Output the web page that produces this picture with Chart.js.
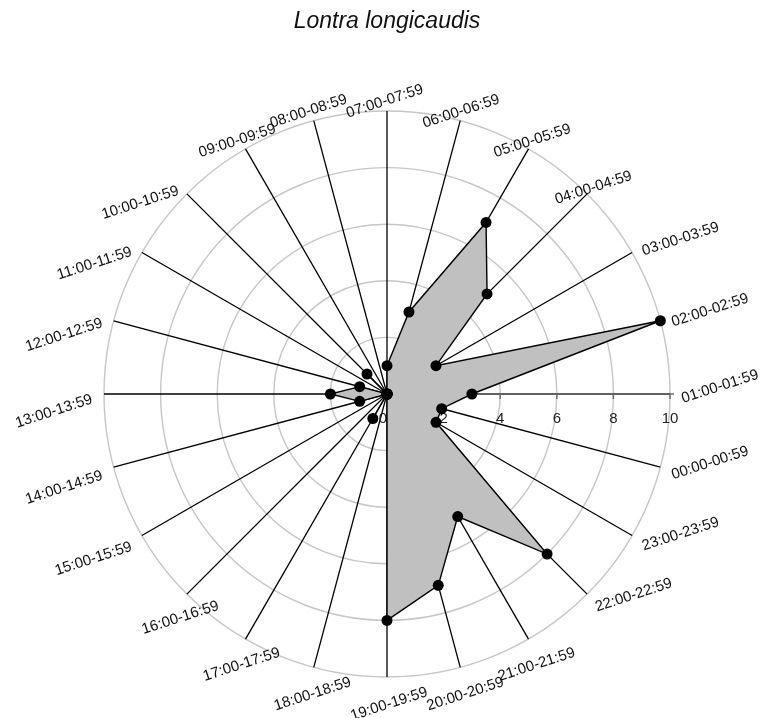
<!DOCTYPE html>
<html>
<head>
<meta charset="utf-8">
<title>Lontra longicaudis</title>
<script src="https://cdn.jsdelivr.net/npm/chart.js@4.4.1/dist/chart.umd.min.js"></script>
<style>
  html, body { margin: 0; padding: 0; background: #ffffff; }
  #chartWrap { width: 763px; height: 718px; }
</style>
</head>
<body>
<div id="chartWrap"><canvas id="myChartRadar"></canvas></div>
<script>
// hourly categories and number of records per hour
const hours = [
  "00:00-00:59", "01:00-01:59", "02:00-02:59", "03:00-03:59",
  "04:00-04:59", "05:00-05:59", "06:00-06:59", "07:00-07:59",
  "08:00-08:59", "09:00-09:59", "10:00-10:59", "11:00-11:59",
  "12:00-12:59", "13:00-13:59", "14:00-14:59", "15:00-15:59",
  "16:00-16:59", "17:00-17:59", "18:00-18:59", "19:00-19:59",
  "20:00-20:59", "21:00-21:59", "22:00-22:59", "23:00-23:59",
];
const records = [2, 3, 10, 2, 5, 7, 3, 1, 0, 0, 1, 0, 1, 2, 1, 0, 0, 1, 0, 8, 7, 5, 8, 2];
const tickValues = [0, 2, 4, 6, 8, 10];
const tickLabels = ["0", "2", "4", "6", "8", "10"];

const labelFont = '15px "Liberation Sans", Arial, sans-serif';

// Chart.js goes clockwise from the top, the original goes counter-clockwise
// with 07:00 on top, so the hours are walked backwards from 07
const order = [];
for (let k = 0; k < hours.length; k++) {
  order.push((7 - k + 24) % 24);
}
const radarLabels = order.map((h) => hours[h]);
const radarData = order.map((h) => records[h]);
const axisIndex = radarLabels.indexOf("01:00-01:59");

/*------------------------------------------
Value axis along 01:00 with its numbers (under the polygon)
-------------------------------------------*/
const valueAxis = {
  id: "valueAxis",
  beforeDatasetsDraw(chart) {
    const scale = chart.scales.r;
    const ctx = chart.ctx;
    const first = scale.getPointPositionForValue(axisIndex, tickValues[0]);
    const last = scale.getPointPositionForValue(axisIndex, tickValues[tickValues.length - 1]);
    ctx.save();
    ctx.strokeStyle = "#6e6e6e";
    ctx.lineWidth = 1.5;
    ctx.beginPath();
    ctx.moveTo(first.x, first.y);
    ctx.lineTo(last.x + 4, last.y);
    ctx.stroke();
    ctx.font = labelFont;
    ctx.fillStyle = "#222222";
    ctx.textAlign = "center";
    ctx.textBaseline = "middle";
    tickValues.forEach((v, i) => {
      const p = scale.getPointPositionForValue(axisIndex, v);
      ctx.beginPath();
      ctx.moveTo(p.x, p.y);
      ctx.lineTo(p.x, p.y + 5);
      ctx.stroke();
      ctx.fillText(tickLabels[i], p.x - (v === 0 ? 4 : 0), p.y + 25);
    });
    ctx.restore();
  },
};

/*------------------------------------------
Hour labels, all tilted the same way as in the original
-------------------------------------------*/
const tiltedLabels = {
  id: "tiltedLabels",
  afterDraw(chart) {
    const scale = chart.scales.r;
    const ctx = chart.ctx;
    const tilt = (-18 * Math.PI) / 180;
    ctx.save();
    ctx.font = labelFont;
    ctx.fillStyle = "#111111";
    chart.data.labels.forEach((label, i) => {
      const p = scale.getPointPosition(i, scale.drawingArea + 12);
      let deg = Math.round((-p.angle * 180) / Math.PI) % 360;
      if (deg < 0) deg += 360;
      const side = deg < 45 || deg >= 315 || (deg >= 135 && deg < 225);
      ctx.save();
      ctx.textBaseline = "middle";
      if (side) {
        // left / right of the spoke end
        ctx.translate(p.x, p.y + 5);
        ctx.rotate(tilt);
        ctx.textAlign = deg < 90 || deg > 270 ? "left" : "right";
        ctx.fillText(label, 0, 0);
      } else {
        // above / below the spoke end
        ctx.translate(p.x, p.y + 9);
        ctx.rotate(tilt);
        ctx.textAlign = "center";
        ctx.fillText(label, 0, deg < 180 ? -7 : 6.5);
      }
      ctx.restore();
    });
    ctx.restore();
  },
};

const ctxRadar = document.getElementById("myChartRadar").getContext("2d");

const myChartRadar = new Chart(ctxRadar, {
  type: "radar",
  data: {
    labels: radarLabels,
    datasets: [
      {
        label: "Lontra longicaudis",
        data: radarData,
        fill: true,
        backgroundColor: "rgb(192, 192, 192)",
        borderColor: "#000000",
        borderWidth: 1.4,
        pointRadius: 5.5,
        pointBackgroundColor: "#000000",
        pointBorderColor: "#000000",
        pointBorderWidth: 0,
      },
    ],
  },
  options: {
    responsive: true,
    maintainAspectRatio: false,
    animation: false,
    layout: {
      padding: { left: 104, right: 93, top: 0, bottom: 41 },
    },
    plugins: {
      legend: { display: false },
      tooltip: { enabled: false },
      title: {
        display: true,
        text: "Lontra longicaudis",
        color: "#111111",
        font: { family: '"Liberation Sans", Arial, sans-serif', size: 23, style: "italic", weight: "normal" },
        padding: { top: 8, bottom: 75.4 },
      },
    },
    scales: {
      r: {
        min: 0,
        max: 10,
        startAngle: 0,
        ticks: { display: false, stepSize: 2 },
        pointLabels: { display: false },
        grid: { circular: true, color: "#c6c6c6", lineWidth: 1.4 },
        angleLines: { color: "#000000", lineWidth: 1.3 },
      },
    },
  },
  plugins: [valueAxis, tiltedLabels],
});
</script>
</body>
</html>
